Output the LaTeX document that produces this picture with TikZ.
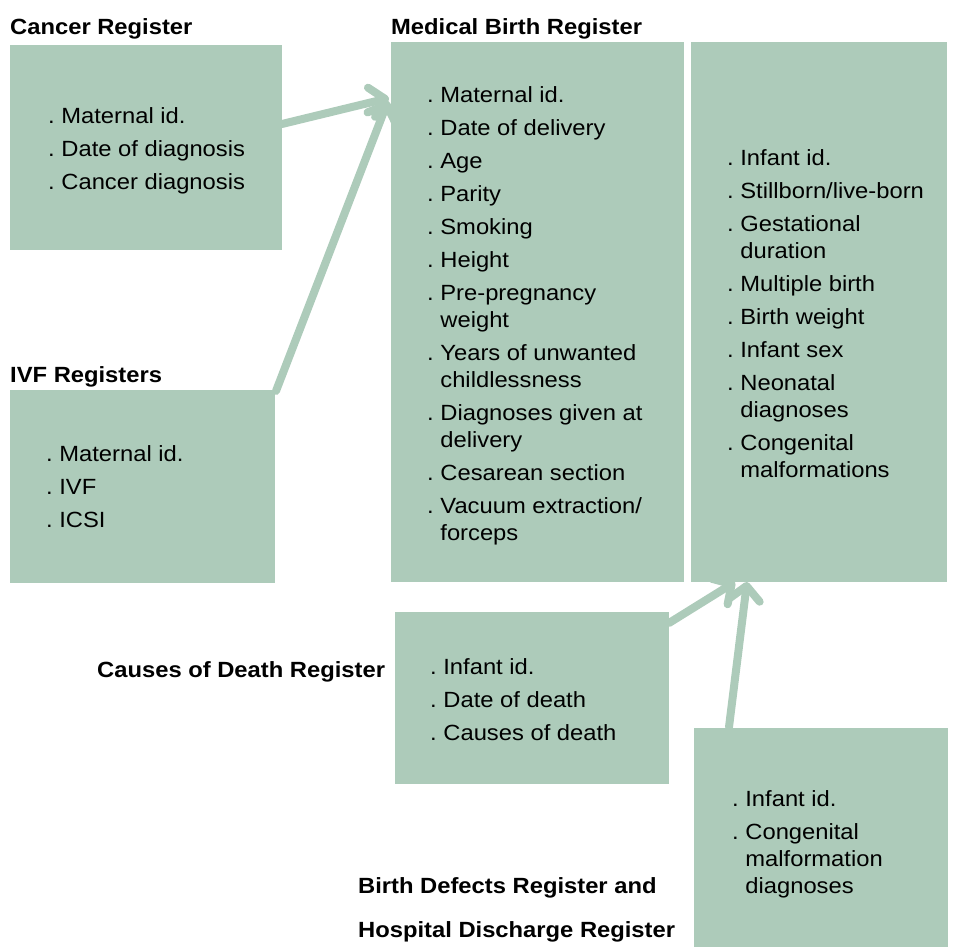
\documentclass[tikz,border=0pt]{standalone}
\usepackage{fontspec}
\setmainfont{Liberation Sans}[FakeStretch=1.08]
\usetikzlibrary{arrows.meta}
\definecolor{boxgreen}{RGB}{173,203,186}
\newcommand\dt{.\ }
\newcommand\ind{\phantom{.\ }}
\begin{document}
\begin{tikzpicture}[x=1pt,y=-1pt,
  box/.style={fill=boxgreen, inner sep=0pt, anchor=north west},
  ttl/.style={anchor=base west, inner sep=0pt, font=\fontsize{22}{27}\selectfont\bfseries},
  txt/.style={anchor=north west, inner sep=0pt, align=left, font=\fontsize{22}{27}\selectfont},
  link/.style={draw=boxgreen, line width=8pt, line cap=round, -{Straight Barb[length=14pt,width=30pt,round]}}]
\useasboundingbox (0,0) rectangle (962,949);

% boxes
\node[box, minimum width=272pt, minimum height=205pt] (cancer) at (10,45) {};
\node[box, minimum width=265pt, minimum height=193pt] (ivf) at (10,390) {};
\node[box, minimum width=293pt, minimum height=540pt] (mbrl) at (391,42) {};
\node[box, minimum width=256pt, minimum height=540pt] (mbrr) at (691,42) {};
\node[box, minimum width=274pt, minimum height=172pt] (cod) at (395,612) {};
\node[box, minimum width=254pt, minimum height=219pt] (bd) at (694,728) {};

% titles
\node[ttl] (tcancer) at (10,35) {Cancer Register};
\node[ttl] (tmbr) at (391,35) {Medical Birth Register};
\node[ttl] (tivf) at (10,383) {IVF Registers};
\node[ttl] (tcod) at (97,677) {Causes of Death Register};
\node[ttl] (tbd1) at (358,893) {Birth Defects Register and};
\node[ttl] (tbd2) at (358,937) {Hospital Discharge Register};

% texts
\node[txt] (xcancer) at (48,104.1) {\strut\dt Maternal id.\\[6pt]\dt Date of diagnosis\\[6pt]\dt Cancer diagnosis};
\node[txt] (xivf) at (46,442.1) {\strut\dt Maternal id.\\[6pt]\dt IVF\\[6pt]\dt ICSI};
\node[txt] (xmbrl) at (427,83.1) {\strut\dt Maternal id.\\[6pt]\dt Date of delivery\\[6pt]\dt Age\\[6pt]\dt Parity\\[6pt]\dt Smoking\\[6pt]\dt Height\\[6pt]\dt Pre-pregnancy\\\ind weight\\[6pt]\dt Years of unwanted\\\ind childlessness\\[6pt]\dt Diagnoses given at\\\ind delivery\\[6pt]\dt Cesarean section\\[6pt]\dt Vacuum extraction/\\\ind forceps};
\node[txt] (xmbrr) at (727,146.1) {\strut\dt Infant id.\\[6pt]\dt Stillborn/live-born\\[6pt]\dt Gestational\\\ind duration\\[6pt]\dt Multiple birth\\[6pt]\dt Birth weight\\[6pt]\dt Infant sex\\[6pt]\dt Neonatal\\\ind diagnoses\\[6pt]\dt Congenital\\\ind malformations};
\node[txt] (xcod) at (430,655.1) {\strut\dt Infant id.\\[6pt]\dt Date of death\\[6pt]\dt Causes of death};
\node[txt] (xbd) at (732,787.1) {\strut\dt Infant id.\\[6pt]\dt Congenital\\\ind malformation\\\ind diagnoses};

% connectors
\coordinate (a1s) at (282,124); \coordinate (a1e) at (389,98);
\coordinate (a2s) at (276,391); \coordinate (a2e) at (388,101);
\coordinate (a3s) at (669,623); \coordinate (a3e) at (735,582);
\coordinate (a4s) at (729,727); \coordinate (a4e) at (747,582);
\draw[link] (a1s) -- (a1e);
\draw[link] (a2s) -- (a2e);
\draw[link] (a3s) -- (a3e);
\draw[link] (a4s) -- (a4e);
\end{tikzpicture}
\end{document}
